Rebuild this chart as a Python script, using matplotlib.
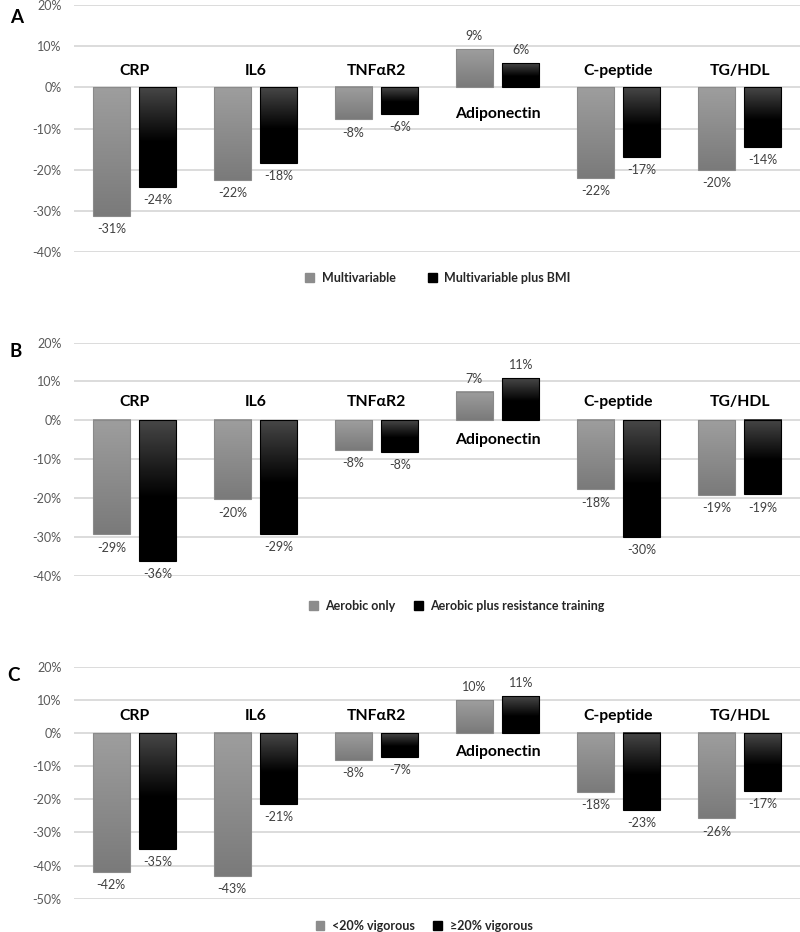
import matplotlib
matplotlib.use("Agg")
import matplotlib.pyplot as plt
import numpy as np
from matplotlib.colors import LinearSegmentedColormap
from matplotlib.patches import Patch

plt.rcParams['font.family'] = ['Lato', 'DejaVu Sans']

categories = ["CRP", "IL6", "TNF\u03b1R2", "Adiponectin", "C-peptide", "TG/HDL"]

a_series1 = [-31.2, -22.4, -7.8, 9.2, -21.9, -20.0]
a_series2 = [-24.1, -18.4, -6.4, 5.8, -16.8, -14.4]
a_names = ["Multivariable", "Multivariable plus BMI"]

b_series1 = [-29.4, -20.4, -7.7, 7.3, -17.8, -19.2]
b_series2 = [-36.2, -29.2, -8.2, 10.8, -30.1, -19.1]
b_names = ["Aerobic only", "Aerobic plus resistance training"]

c_series1 = [-41.9, -43.2, -8.2, 9.8, -17.8, -25.8]
c_series2 = [-34.9, -21.4, -7.2, 11.1, -23.3, -17.4]
c_names = ["<20% vigorous", "\u226520% vigorous"]

panel_letters = ["A", "B", "C"]
ylims = [(-40, 20), (-40, 20), (-50, 20)]

fig = plt.figure(figsize=(8, 9.32), dpi=100)

rects = [
    (0.0925, 0.7296, 0.9075, 0.2650),
    (0.0925, 0.3825, 0.9075, 0.2498),
    (0.0925, 0.0357, 0.9075, 0.2490),
]
legend_y = [0.7017, 0.3498, 0.0064]
legend_x = [0.5475, 0.571, 0.530]
legend_colsp = [2.6, 1.5, 1.5]
letter_pos = [(0.021, 0.981), (0.019, 0.623), (0.017, 0.275)]
above_off = [12, 13, 12]
below_off = [-19, -14.5, -14]

gray_cmap = LinearSegmentedColormap.from_list("g", ["#9e9e9e", "#7a7a7a"])
black_cmap = LinearSegmentedColormap.from_list("k", [(0, "#474747"), (0.55, "#000000"), (1, "#000000")])

data = [(a_series1, a_series2, a_names), (b_series1, b_series2, b_names), (c_series1, c_series2, c_names)]

width = 0.31
gap = 0.074
grad = np.linspace(0, 1, 256).reshape(-1, 1)

for k, ((s1, s2, names), rect, ylim) in enumerate(zip(data, rects, ylims)):
    ax = fig.add_axes(rect)
    x = np.arange(len(categories))
    off = (width + gap) / 2
    b1 = ax.bar(x - off, s1, width, facecolor='none', edgecolor='#8a8a8a', linewidth=0.8, zorder=3)
    b2 = ax.bar(x + off, s2, width, facecolor='none', edgecolor='#000000', linewidth=0.8, zorder=3)
    for bars, cmap in ((b1, gray_cmap), (b2, black_cmap)):
        for p in bars:
            x0 = p.get_x(); w = p.get_width()
            y0 = p.get_y(); h = p.get_height()
            ylo, yhi = min(y0, y0 + h), max(y0, y0 + h)
            ax.imshow(grad, cmap=cmap, extent=[x0, x0 + w, ylo, yhi], aspect='auto',
                      origin='upper', zorder=2, interpolation='bilinear')
    ax.set_xlim(-0.5, len(categories) - 0.5)
    ax.set_ylim(*ylim)
    ticks = np.arange(ylim[0], ylim[1] + 1, 10)
    ax.set_yticks(ticks)
    ax.set_yticklabels([f"{int(t)}%" for t in ticks])
    ax.tick_params(axis='y', length=0, pad=9, labelsize=9, labelcolor='#595959')
    ax.set_xticks([])
    ax.grid(axis='y', color='#d9d9d9', linewidth=1.3, zorder=0)
    ax.set_axisbelow(True)
    for sp in ax.spines.values():
        sp.set_visible(False)

    for bars, vals in ((b1, s1), (b2, s2)):
        for p, v in zip(bars, vals):
            cx = p.get_x() + p.get_width() / 2
            dy = 9.5 if v > 0 else -9.5
            ax.annotate(f"{v:.0f}%", (cx, v), xytext=(0, dy), textcoords='offset points',
                        ha='center', va='center', fontsize=9, color='#404040')

    for i, cat in enumerate(categories):
        positive = s1[i] > 0
        dy = below_off[k] if positive else above_off[k]
        ax.annotate(cat, (i, 0), xytext=(0, dy), textcoords='offset points',
                    ha='center', va='center', fontsize=11.3, fontweight='bold', color='#000000')

    fig.text(letter_pos[k][0], letter_pos[k][1], panel_letters[k], fontsize=13.5,
             fontweight='bold', ha='center', va='center')

    handles = [Patch(facecolor='#8c8c8c', edgecolor='#8c8c8c'),
               Patch(facecolor='#000000', edgecolor='#000000')]
    leg = fig.legend(handles, names, loc='center', bbox_to_anchor=(legend_x[k], legend_y[k]),
                     ncol=2, frameon=False, handlelength=0.7, handleheight=0.7,
                     handletextpad=0.6, columnspacing=legend_colsp[k],
                     prop={'size': 9, 'weight': 'bold'})
    for t in leg.get_texts():
        t.set_color('#262626')

fig.savefig("out.png", dpi=100)
